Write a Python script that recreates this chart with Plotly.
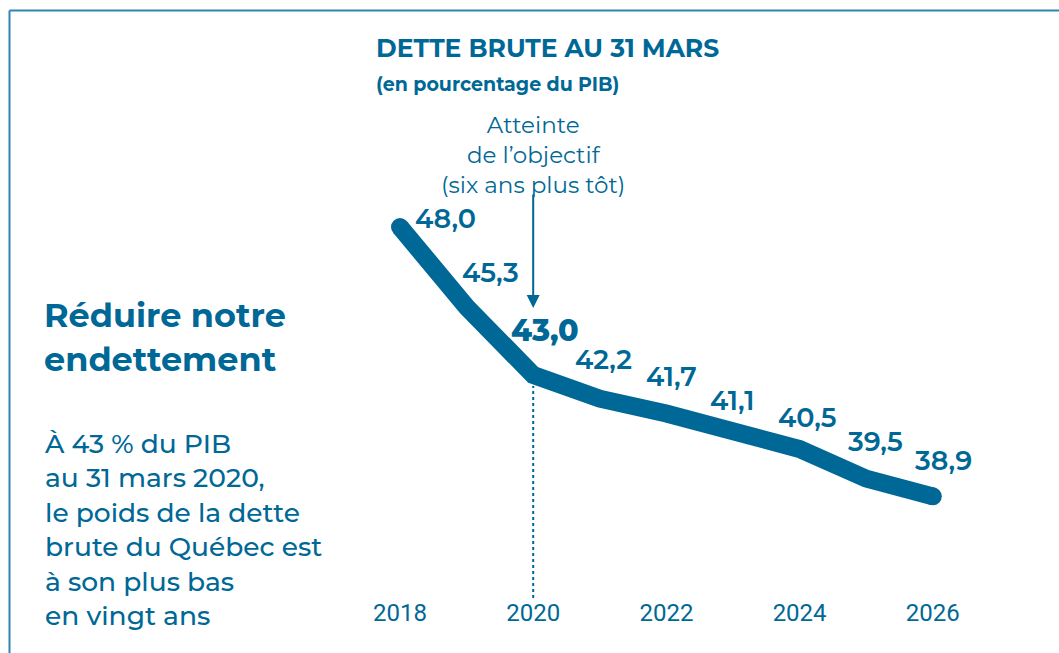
import plotly.graph_objects as go

# ---- data ----
years = [2018, 2019, 2020, 2021, 2022, 2023, 2024, 2025, 2026]
debt_pct = [48.0, 45.3, 43.0, 42.2, 41.7, 41.1, 40.5, 39.5, 38.9]
value_labels = ["48,0", "45,3", "43,0", "42,2", "41,7", "41,1", "40,5", "39,5", "38,9"]
tick_years = [2018, 2020, 2022, 2024, 2026]
tick_labels = ["2018", "2020", "2022", "2024", "2026"]
target_year = 2020

# ---- layout constants ----
W, H = 1059, 653
PL, PR, PT, PB = 380, 960, 200, 596
BLUE = "#006896"
BORDER = "#2f86b3"
FONT = "Montserrat, 'Open Sans', 'Noto Sans', sans-serif"
label_offsets = [(45, 9), (24, 34), (12, 45), (4, 39), (5, 37), (-1, 31), (8, 32), (9, 37), (11, 36)]

px_per_year = 66.6
px_per_unit = 29.6
x_range = [2018 - (400 - PL) / px_per_year, 2018 + (PR - 400) / px_per_year]
y_range = [48 - (PB - 227) / px_per_unit, 48 + (227 - PT) / px_per_unit]


def px(x):
    return (x - PL) / (PR - PL)


def py(y):
    return (PB - y) / (PB - PT)


fig = go.Figure()
fig.add_trace(go.Scatter(x=years, y=debt_pct, mode="lines",
                         line=dict(color=BLUE, width=18), hoverinfo="skip",
                         showlegend=False))
fig.add_trace(go.Scatter(x=[years[0], years[-1]], y=[debt_pct[0], debt_pct[-1]],
                         mode="markers", marker=dict(color=BLUE, size=18),
                         hoverinfo="skip", showlegend=False, cliponaxis=False))

annotations = []
for yr, v, lab, (dx, dy) in zip(years, debt_pct, value_labels, label_offsets):
    big = yr == target_year
    annotations.append(dict(x=yr, y=v, text=lab, showarrow=False,
                            xshift=dx, yshift=dy,
                            font=dict(family=FONT, size=30 if big else 27,
                                      color=BLUE, weight=800 if big else 600)))

# arrow to the target year
target_val = debt_pct[years.index(target_year)]
annotations.append(dict(x=target_year, y=target_val, yshift=67, text="",
                        showarrow=True, ax=0, ay=-115, arrowhead=2,
                        arrowsize=1.3, arrowwidth=2, arrowcolor=BLUE))
annotations.append(dict(x=target_year, y=py(155), xref="x", yref="paper",
                        text="Atteinte<br>de l\u2019objectif<br>(six ans plus tôt)",
                        showarrow=False, xanchor="center", yanchor="middle",
                        font=dict(family=FONT, size=23, color=BLUE)))

# titles
annotations.append(dict(x=px(374), y=py(48), xref="paper", yref="paper",
                        text="DETTE BRUTE AU 31 MARS", showarrow=False,
                        xanchor="left", yanchor="middle",
                        font=dict(family=FONT, size=25, color=BLUE, weight=700)))
annotations.append(dict(x=px(374), y=py(85), xref="paper", yref="paper",
                        text="(en pourcentage du PIB)", showarrow=False,
                        xanchor="left", yanchor="middle",
                        font=dict(family=FONT, size=19, color=BLUE, weight=700)))
annotations.append(dict(x=px(42), y=py(337), xref="paper", yref="paper",
                        text="Réduire notre<br>endettement", showarrow=False,
                        xanchor="left", yanchor="middle", align="left",
                        font=dict(family=FONT, size=33.5, color=BLUE, weight=700)))
annotations.append(dict(x=px(42), y=py(529), xref="paper", yref="paper",
                        text="À 43 % du PIB<br>au 31 mars 2020,<br>le poids de la dette<br>"
                             "brute du Québec est<br>à son plus bas<br>en vingt ans",
                        showarrow=False, xanchor="left", yanchor="middle", align="left",
                        font=dict(family=FONT, size=26.5, color=BLUE, weight=500)))

shapes = [
    dict(type="line", xref="x", yref="paper", x0=target_year, x1=target_year,
         y0=py(598), y1=py(386), line=dict(color=BLUE, width=2, dash="dot")),
    dict(type="line", xref="paper", yref="paper", x0=px(9.5), x1=px(W + 5),
         y0=py(10.5), y1=py(10.5), line=dict(color=BORDER, width=2)),
    dict(type="line", xref="paper", yref="paper", x0=px(9.5), x1=px(9.5),
         y0=py(10.5), y1=py(H + 5), line=dict(color=BORDER, width=2)),
]

fig.update_layout(
    width=W, height=H,
    margin=dict(l=PL, r=W - PR, t=PT, b=H - PB),
    paper_bgcolor="white", plot_bgcolor="white",
    annotations=annotations, shapes=shapes,
    xaxis=dict(range=x_range, tickvals=tick_years, ticktext=tick_labels,
               showgrid=False, zeroline=False, showline=False, ticks="",
               tickfont=dict(family="Roboto", size=24, color=BLUE, weight=400)),
    yaxis=dict(range=y_range, visible=False, showgrid=False, zeroline=False),
)

fig.write_html("out.html", config={"displayModeBar": False},
               post_script="document.body.style.margin='0';document.body.style.overflow='hidden';")
